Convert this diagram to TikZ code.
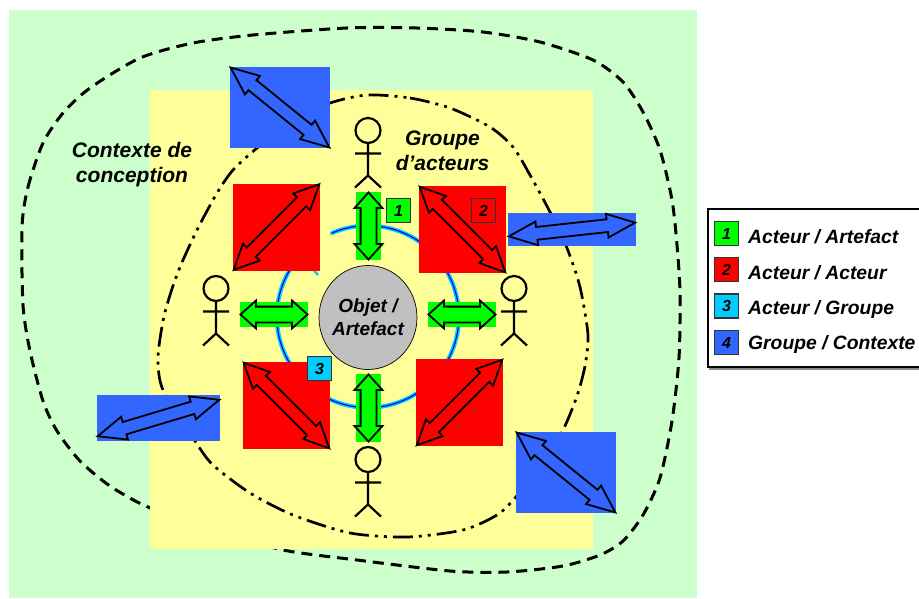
\documentclass[tikz,border=0pt]{standalone}
\usepackage{fontspec}
\setmainfont{Liberation Sans}
\definecolor{ctxgreen}{RGB}{204, 255, 204}
\definecolor{paleyellow}{RGB}{255, 255, 153}
\definecolor{artgreen}{RGB}{0, 255, 0}
\definecolor{actred}{RGB}{255, 0, 0}
\definecolor{grpcyan}{RGB}{0, 204, 255}
\definecolor{ctxblue}{RGB}{51, 102, 255}
\definecolor{ringblue}{RGB}{0, 0, 220}
\definecolor{objgray}{RGB}{192, 192, 192}
\usetikzlibrary{shapes.arrows, shapes.geometric, positioning, calc}
\tikzset{
  twoway/.style={draw=black, line width=1.8pt, shape=double arrow, inner sep=0pt, outer sep=0pt, inner ysep=5.5pt, double arrow head extend=5.5pt, double arrow tip angle=#1},
  redway/.style={twoway=51, minimum height=121pt},
  blueway/.style={twoway=46, minimum height=127pt},
  shortway/.style={twoway=84, minimum height=67pt, inner ysep=7pt, double arrow head extend=6pt, fill=artgreen},
  numkey/.style={draw=black!80, line width=1.1pt, minimum size=24pt, inner sep=0pt, font=\fontsize{16}{18}\selectfont\bfseries\itshape},
  bigtext/.style={font=\fontsize{21}{25}\selectfont\bfseries\itshape, align=center},
  keytext/.style={font=\fontsize{19.3}{20}\selectfont\bfseries\itshape, anchor=base west, inner xsep=0pt},
  pics/stickman/.style={code={
    \draw[line width=2.2pt] (0,0) circle (12.5);
    \draw[line width=2.2pt] (0,12.5) -- (0,45) -- (-13,57) (0,45) -- (13,57) (-13,23) -- (13,23);
  }}
}
\begin{document}
\begin{tikzpicture}[x=1pt, y=-1pt]
  \useasboundingbox (0,0) rectangle (919,598);
  % Backgrounds and context outline
  \fill[ctxgreen] (9,10) rectangle (697,598);
  \draw[line width=3pt, dash pattern=on 11pt off 7pt] plot[smooth cycle, tension=0.45] coordinates {(22,227) (28,187) (43,143) (63,113) (90,88) (140,58) (193,43) (253,35) (347,28) (417,28) (483,32) (540,42) (593,60) (623,82) (643,112) (660,150) (672,200) (677,245) (680,293) (679,358) (672,421) (660,478) (643,515) (623,541) (600,555) (563,566) (507,572) (450,571) (357,560) (283,550) (215,530) (148,507) (110,486) (80,461) (57,431) (43,401) (30,351) (23,305)};
  \fill[paleyellow] (150,90) rectangle (593,549);

  % Group outline
  \draw[line width=2.7pt, dash pattern=on 20pt off 6pt on 3pt off 6pt on 3pt off 6pt] plot[smooth cycle, tension=0.45] coordinates {(367,95) (410,98) (450,108) (490,127) (513,147) (530,175) (550,212) (567,248) (580,287) (588,335) (585,366) (577,396) (563,430) (541,466) (515,498) (497,515) (463,530) (407,537) (350,533) (293,515) (250,493) (213,465) (195,441) (163,390) (158,358) (163,321) (170,295) (180,267) (197,230) (217,193) (233,170) (257,148) (292,120) (330,103)};

  % Ring and object
  \coordinate (ringstart) at (332,233);
  \coordinate (scrapa) at (313,269);
  \coordinate (scrapb) at (318,275);
  \draw[grpcyan, line width=4.2pt, line cap=round] (ringstart) arc[start angle=113.2, end angle=-235, radius=91pt];
  \draw[ringblue, line width=1.1pt] (ringstart) arc[start angle=113.2, end angle=-235, radius=91pt];
  \draw[grpcyan, line width=2.5pt] (scrapa) -- (scrapb);
  \node[ellipse, draw=black, fill=objgray, line width=0.7pt, minimum width=98pt, minimum height=104pt, inner sep=0pt, inner xsep=-2pt, font=\fontsize{19}{23}\selectfont\bfseries\itshape, align=center] (objet) at (368,317.5) {Objet /\\Artefact};

  % Actor / actor squares
  \node[fill=actred, minimum size=87pt, inner sep=0pt] (redA) at (276.5,227) {};
  \node[fill=actred, minimum size=87pt, inner sep=0pt] (redB) at (462.5,229.5) {};
  \node[fill=actred, minimum size=87pt, inner sep=0pt] (redC) at (286.5,405.5) {};
  \node[fill=actred, minimum size=87pt, inner sep=0pt] (redD) at (459.5,402.5) {};
  \node[redway, rotate=45] (arrA) at (redA) {};
  \node[redway, rotate=-45] (arrB) at (redB) {};
  \node[redway, rotate=-45] (arrC) at (redC) {};
  \node[redway, rotate=45] (arrD) at (redD) {};

  % Group / context boxes
  \node[fill=ctxblue, minimum width=100pt, minimum height=81pt, inner sep=0pt] (blueA) at (280,107.5) {};
  \node[fill=ctxblue, minimum width=128pt, minimum height=33pt, inner sep=0pt] (blueB) at (572,229.5) {};
  \node[fill=ctxblue, minimum width=123pt, minimum height=46pt, inner sep=0pt] (blueC) at (158.5,418) {};
  \node[fill=ctxblue, minimum width=100pt, minimum height=81pt, inner sep=0pt] (blueD) at (566,472.5) {};
  \node[blueway, rotate=-39] (arrE) at (blueA) {};
  \node[blueway, rotate=6.2] (arrF) at (blueB) {};
  \node[blueway, rotate=16.7] (arrG) at (blueC) {};
  \node[blueway, rotate=-39] (arrH) at (blueD) {};

  % Actor / artefact links
  \node[fill=artgreen, minimum width=25pt, minimum height=68pt, inner sep=0pt] (greenT) at (368.5,226) {};
  \node[fill=artgreen, minimum width=25pt, minimum height=68pt, inner sep=0pt] (greenB) at (368.5,408) {};
  \node[fill=artgreen, minimum width=68pt, minimum height=25pt, inner sep=0pt] (greenL) at (274,314.5) {};
  \node[fill=artgreen, minimum width=68pt, minimum height=25pt, inner sep=0pt] (greenR) at (462,314.5) {};
  \node[shortway, rotate=90] (arrT) at (greenT) {};
  \node[shortway, rotate=90] (arrB2) at (greenB) {};
  \node[shortway] (arrL) at (greenL) {};
  \node[shortway] (arrR) at (greenR) {};

  % Actors
  \pic (actT) at (368,130.5) {stickman};
  \pic (actB) at (368,459.5) {stickman};
  \pic (actL) at (216,288.5) {stickman};
  \pic (actR) at (514,288.5) {stickman};

  % Numbered keys on the picture
  \node[numkey, fill=artgreen] (numA) at (398.5,210.5) {1};
  \node[numkey, fill=actred] (numB) at (483.5,210.5) {2};
  \node[numkey, fill=grpcyan] (numC) at (319.5,368.5) {3};

  % Labels
  \node[bigtext] (contexte) at (132,164.5) {Contexte de\\conception};
  \node[bigtext] (groupe) at (442.5,151) {Groupe\\d’acteurs};

  % Legend
  \draw[black!45, line width=2.4pt] (919,211) -- (710,211) -- (710,369) -- (919,369);
  \fill[white] (708,209) rectangle (919,367);
  \draw[line width=2.4pt] (919,209) -- (708,209) -- (708,367) -- (919,367);
  \node[numkey, fill=artgreen] (keyA) at (726.5,233.5) {1};
  \node[numkey, fill=actred] (keyB) at (726.5,269.5) {2};
  \node[numkey, fill=grpcyan] (keyC) at (726.5,306) {3};
  \node[numkey, fill=ctxblue] (keyD) at (726.5,342.5) {4};
  \node[keytext] (txtA) at (748,243) {Acteur / Artefact};
  \node[keytext] (txtB) at (748,279) {Acteur / Acteur};
  \node[keytext] (txtC) at (748,314) {Acteur / Groupe};
  \node[keytext] (txtD) at (748,349) {Groupe / Contexte};
\end{tikzpicture}
\end{document}
